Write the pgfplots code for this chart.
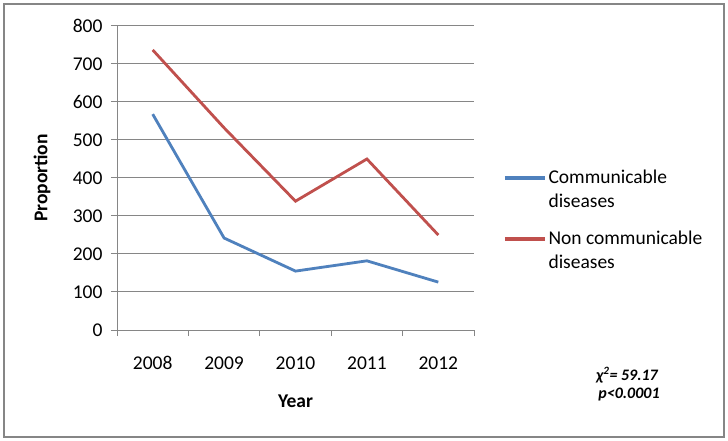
\documentclass[border=0pt]{standalone}
\usepackage{pgfplots}
\pgfplotsset{compat=1.18}
\usepackage{fontspec}
\setmainfont{Carlito}

\definecolor{commblue}{HTML}{4F81BD}
\definecolor{noncommred}{HTML}{C0504D}
\definecolor{xlgray}{HTML}{868686}

\newcommand{\chartfont}{\fontsize{19.5bp}{23bp}\selectfont}

\begin{document}
\begin{tikzpicture}[font=\chartfont]
\path[use as bounding box] (0bp,0bp) rectangle (728bp,441bp);
\fill[white] (0bp,0bp) rectangle (728bp,441bp);
\draw[xlgray, line width=2bp] (4bp,4bp) rectangle (724bp,437bp);

\begin{axis}[
    at={(117bp,111bp)}, anchor=south west,
    scale only axis,
    width=357bp, height=304bp,
    xmin=-0.5, xmax=4.5,
    ymin=0, ymax=800,
    axis x line=bottom, axis y line=left,
    axis line style={xlgray, line width=1bp, -},
    xtick={-0.5,0.5,...,4.5},
    x tick label as interval,
    xticklabels={2008,2009,2010,2011,2012},
    ytick={0,100,...,800},
    tick align=outside,
    major tick length=6bp,
    tick style={xlgray, line width=1bp},
    ymajorgrids=true,
    grid style={xlgray, line width=1bp},
    /pgf/number format/assume math mode=true,
    tick label style={font=\chartfont},
    xticklabel style={yshift=-17bp},
    yticklabel style={xshift=-5bp},
    xlabel={Year},
    ylabel={Proportion},
    label style={font=\chartfont\bfseries},
    xlabel style={at={(axis description cs:0.5,-0.2336)}, anchor=center},
    ylabel style={at={(axis description cs:-0.21,0.5)}, anchor=center},
    legend style={at={(axis description cs:1.081,0.54)}, anchor=north west,
        draw=none, fill=none, inner sep=0pt, row sep=0pt,
        font=\chartfont,
        nodes={inner xsep=2bp, inner ysep=3bp, text height=14bp, text depth=4bp}},
    legend cell align=left,
    legend image post style={line width=3.4bp},
    legend image code/.code={\draw[#1, line width=3.4bp] (0bp,0bp) -- (40bp,0bp);},
    clip=false,
]
\addplot[commblue, line width=2.8bp] coordinates {
    (0,568) (1,242) (2,155) (3,182) (4,126)
};
\addlegendentry{Communicable}
\addlegendimage{empty legend}
\addlegendentry[text depth=17bp]{diseases}
\addplot[noncommred, line width=2.8bp] coordinates {
    (0,737) (1,532) (2,339) (3,450) (4,250)
};
\addlegendentry{Non communicable}
\addlegendimage{empty legend}
\addlegendentry{diseases}
\end{axis}

\node[font=\fontsize{16bp}{19bp}\selectfont\bfseries\itshape] at (627bp,66bp) {χ\textsuperscript{2}= 59.17};
\node[font=\fontsize{16bp}{19bp}\selectfont\bfseries\itshape] at (629bp,46bp) {p<0.0001};
\end{tikzpicture}
\end{document}
